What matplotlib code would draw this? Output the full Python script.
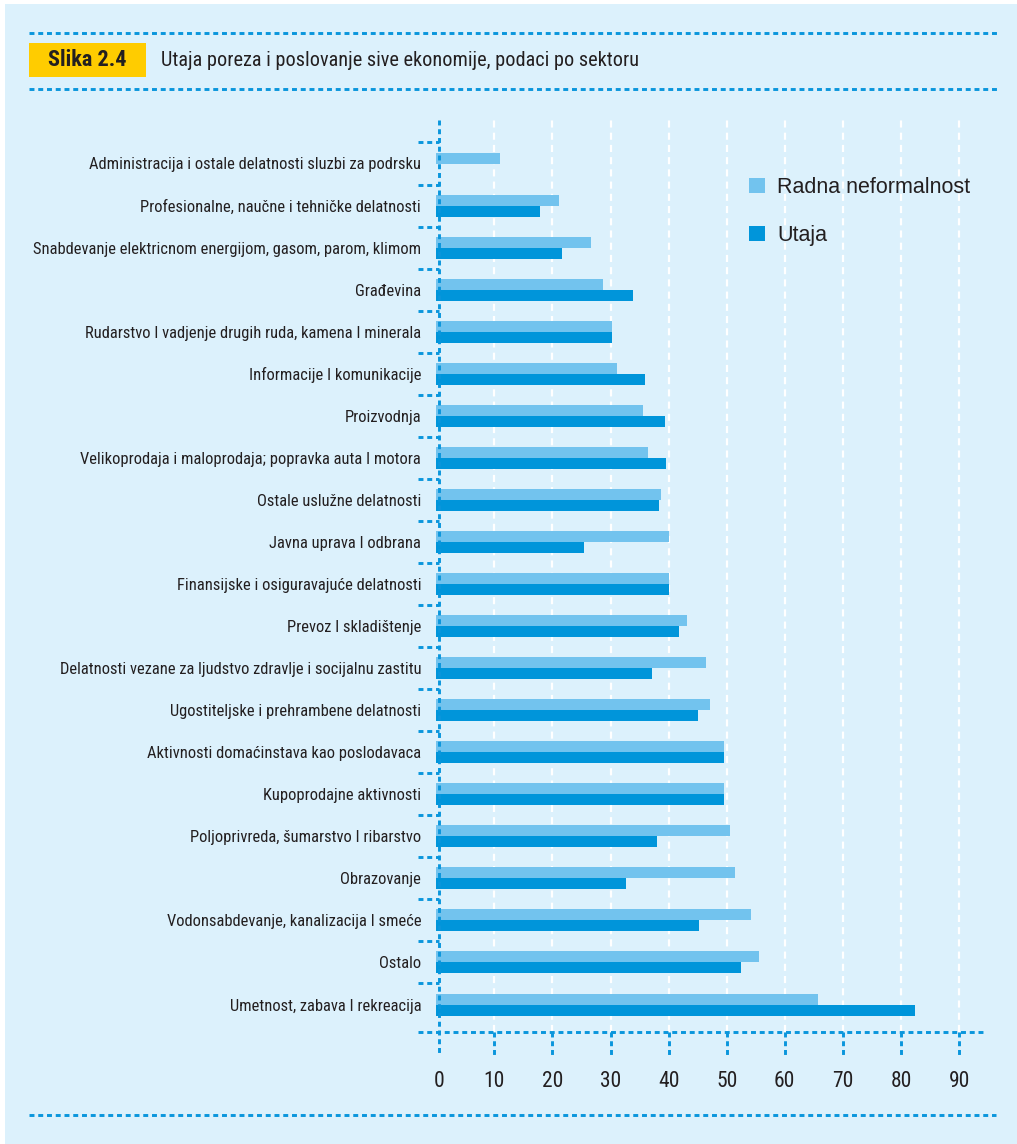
import numpy as np
import matplotlib
matplotlib.use("Agg")
import matplotlib.pyplot as plt
import matplotlib.font_manager as fm
from matplotlib.patches import Rectangle
from matplotlib.lines import Line2D

# ---------------- data ----------------
categories = [
    "Administracija i ostale delatnosti sluzbi za podrsku",
    "Profesionalne, naučne i tehničke delatnosti",
    "Snabdevanje elektricnom energijom, gasom, parom, klimom",
    "Građevina",
    "Rudarstvo I vadjenje drugih ruda, kamena I minerala",
    "Informacije I komunikacije",
    "Proizvodnja",
    "Velikoprodaja i maloprodaja; popravka auta I motora",
    "Ostale uslužne delatnosti",
    "Javna uprava I odbrana",
    "Finansijske i osiguravajuće delatnosti",
    "Prevoz I skladištenje",
    "Delatnosti vezane za ljudstvo zdravlje i socijalnu zastitu",
    "Ugostiteljske i prehrambene delatnosti",
    "Aktivnosti domaćinstava kao poslodavaca",
    "Kupoprodajne aktivnosti",
    "Poljoprivreda, šumarstvo I ribarstvo",
    "Obrazovanje",
    "Vodonsabdevanje, kanalizacija I smeće",
    "Ostalo",
    "Umetnost, zabava I rekreacija",
]
radna_neformalnost = [11.0, 21.2, 26.7, 28.7, 30.3, 31.2, 35.6, 36.5, 38.7, 40.0, 40.0,
                      43.2, 46.5, 47.2, 49.6, 49.6, 50.6, 51.5, 54.2, 55.6, 65.7]
utaja = [np.nan, 17.9, 21.7, 33.9, 30.3, 36.0, 39.4, 39.6, 38.4, 25.5, 40.0,
         41.8, 37.2, 45.1, 49.6, 49.6, 38.0, 32.6, 45.3, 52.5, 82.4]
series_names = ["Radna neformalnost", "Utaja"]
x_ticks = [0, 10, 20, 30, 40, 50, 60, 70, 80, 90]
badge = "Slika 2.4"
title = "Utaja poreza i poslovanje sive ekonomije, podaci po sektoru"

# ---------------- style ----------------
BG = "#DCF1FC"
LIGHT = "#72C3EE"
DARK = "#0095DA"
DOT = "#0A96DC"
YELLOW = "#FFCC00"
TXT = "#231F20"


def pick(fams):
    for f in fams:
        try:
            fm.findfont(fm.FontProperties(family=f), fallback_to_default=False)
            return f
        except Exception:
            pass
    return "DejaVu Sans"


NARROW = pick(["Liberation Sans Narrow", "Roboto Condensed", "DejaVu Sans"])
REG = pick(["Liberation Sans", "DejaVu Sans"])
plt.rcParams["font.family"] = [NARROW, "DejaVu Sans"]

W, H = 1017, 1144
fig = plt.figure(figsize=(W / 100, H / 100), dpi=100)
fig.patch.set_facecolor("white")


def fx(px):
    return px / W


def fy(py):
    return 1 - py / H


# light-blue panel
fig.patches.append(Rectangle((fx(5), 0), 1 - fx(5), fy(4), transform=fig.transFigure,
                             facecolor=BG, edgecolor="none", zorder=-10))

DOTLS = (0, (1.7, 1.3))
DLW = 2.1


def fig_hline(y, x0, x1):
    fig.add_artist(Line2D([fx(x0), fx(x1)], [fy(y), fy(y)], transform=fig.transFigure,
                          color=DOT, lw=DLW, linestyle=DOTLS, dash_capstyle="butt"))


fig_hline(33, 29, 998)
fig_hline(89, 29, 998)
fig_hline(1115, 29, 996)

# badge
fig.patches.append(Rectangle((fx(29), fy(77)), fx(146) - fx(29), fy(43) - fy(77),
                             transform=fig.transFigure, facecolor=YELLOW, edgecolor="none"))
fig.text(fx(87.5), fy(60), badge, ha="center", va="center", fontsize=16,
         fontweight="bold", color=TXT)
fig.text(fx(161), fy(60), title, ha="left", va="center", fontsize=14.6, color=TXT)

# ---------------- axes ----------------
left_px, right_px, top_px, bot_px = 417.7, 985.7, 120, 1031.7
ax = fig.add_axes([fx(left_px), fy(bot_px), fx(right_px) - fx(left_px), fy(top_px) - fy(bot_px)])
ax.set_facecolor("none")

row_px0, row_step = 163.5, 42.05
y = np.arange(len(categories))
ax.set_ylim((bot_px - row_px0) / row_step, (top_px - row_px0) / row_step)
x0 = 436.2
scale = 5.81
ax.set_xlim((left_px - x0) / scale, (right_px - x0) / scale)

h = 11 / row_step
ax.barh(y - h / 2, radna_neformalnost, height=h, color=LIGHT, label=series_names[0], zorder=3)
ax.barh(y + h / 2, utaja, height=h, color=DARK, label=series_names[1], zorder=3)

for s in ax.spines.values():
    s.set_visible(False)

# white dashed gridlines
for t in x_ticks[1:]:
    ax.axvline(t, color="white", lw=1.6, linestyle=(0, (3.2, 2.3)), zorder=1)

ymin_ext = (1056 - row_px0) / row_step
ybot = (bot_px - row_px0) / row_step
ytop = (top_px - row_px0) / row_step
axis_x = 0.5  # the dotted axis sits just left of the bar starts
# vertical dotted axis
ax.vlines(axis_x, ytop, ymin_ext, color=DOT, lw=DLW, linestyle=DOTLS, clip_on=False, zorder=4)
# horizontal dotted axis
ax.plot([0, 1], [0, 0], transform=ax.transAxes, color=DOT, lw=DLW, linestyle=DOTLS,
        clip_on=False, zorder=4)
# tick marks below
ax.vlines(x_ticks[1:], ybot, ymin_ext, color=DOT, lw=DLW, linestyle=DOTLS, clip_on=False, zorder=4)
# category boundary dashes
ax.hlines(y - 0.5, ax.get_xlim()[0], axis_x, color=DOT, lw=DLW, linestyle=DOTLS, clip_on=False, zorder=4)

ax.set_yticks(y)
ax.set_yticklabels(categories, fontsize=11.9, color=TXT)
ax.tick_params(axis="y", length=0, pad=-2.5)
tick_pos = [axis_x if t == 0 else t for t in x_ticks]
ax.set_xticks(tick_pos)
ax.set_xticklabels([str(t) for t in x_ticks], fontsize=15.5, color=TXT)
ax.tick_params(axis="x", length=0, pad=28)

leg = ax.legend(loc="upper left", bbox_to_anchor=(fx(749), fy(177)), bbox_transform=fig.transFigure,
                frameon=False, prop={"family": REG, "size": 15.5}, handlelength=0.74,
                handleheight=0.74, handletextpad=0.56, labelspacing=1.25, borderpad=0,
                borderaxespad=0)
for t in leg.get_texts():
    t.set_color(TXT)

fig.savefig("out.png", dpi=100, facecolor=fig.get_facecolor())
